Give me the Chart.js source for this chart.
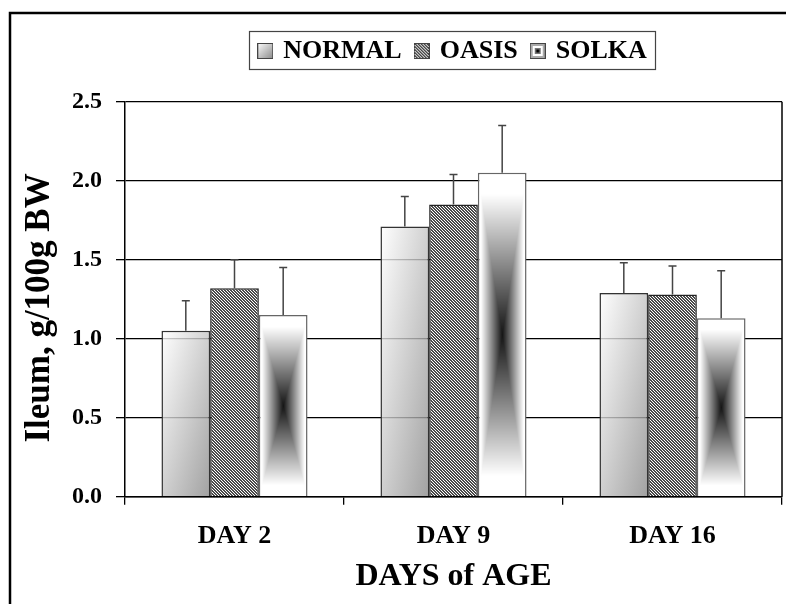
<!DOCTYPE html>
<html>
<head>
<meta charset="utf-8">
<script src="https://cdn.jsdelivr.net/npm/chart.js@4.4.1/dist/chart.umd.min.js"></script>
<style>
  html, body { margin: 0; padding: 0; background: #fff; }
  #chart { display: block; }
</style>
</head>
<body>
<canvas id="chart" width="786" height="604"></canvas>
<script>
// data
const categories = ['DAY 2', 'DAY 9', 'DAY 16'];
const seriesNames = ['NORMAL', 'OASIS', 'SOLKA'];
const normal = [1.05, 1.71, 1.29];
const oasis = [1.32, 1.85, 1.28];
const solka = [1.15, 2.05, 1.13];
const normalErr = [0.19, 0.19, 0.19];
const oasisErr = [0.18, 0.19, 0.18];
const solkaErr = [0.30, 0.30, 0.30];
const yTicks = [0, 0.5, 1.0, 1.5, 2.0, 2.5];

const FONT = "'Liberation Serif', 'Times New Roman', serif";
const CAT_PCT = 0.667;
const LEGEND_TOP = 23;
const LEGEND_H = 78.7;

// where a bar sits, worked out from the chart's own scales
function barBox(c) {
  const chart = c.chart;
  const xs = chart.scales.x;
  const ys = chart.scales.y;
  const nd = chart.data.datasets.length;
  const groupW = (xs.width / categories.length) * CAT_PCT;
  const barW = groupW / nd;
  const cx = xs.getPixelForValue(c.dataIndex);
  const left = cx - groupW / 2 + c.datasetIndex * barW;
  const top = ys.getPixelForValue(c.raw);
  const bottom = ys.getPixelForValue(0);
  return { left, top, w: barW, h: bottom - top };
}

function normalFill(c) {
  if (c.type !== 'data' || !c.chart.chartArea) return '#ddd';
  const b = barBox(c);
  // stretched diagonal gradient (corner to corner of the bar)
  const gx = 1 / (2 * b.w), gy = 1 / (2 * b.h);
  const g2 = gx * gx + gy * gy;
  const grad = c.chart.ctx.createLinearGradient(b.left, b.top, b.left + gx / g2, b.top + gy / g2);
  grad.addColorStop(0, 'rgba(255,255,255,0.8)');
  grad.addColorStop(1, 'rgba(138,138,138,0.8)');
  return grad;
}

const hatchTile = document.createElement('canvas');
hatchTile.width = 3;
hatchTile.height = 3;
(function () {
  const tc = hatchTile.getContext('2d');
  tc.fillStyle = '#fff';
  tc.fillRect(0, 0, 3, 3);
  tc.fillStyle = '#4a4a4a';
  for (let y = 0; y < 3; y++) {
    for (let x = 0; x < 3; x++) {
      if ((((x - y) % 3) + 3) % 3 < 2) tc.fillRect(x, y, 1, 1);
    }
  }
})();

function oasisFill(c) {
  return c.chart.ctx.createPattern(hatchTile, 'repeat');
}

function centerGradientCanvas(w, h) {
  const cv = document.createElement('canvas');
  cv.width = w;
  cv.height = h;
  const cc = cv.getContext('2d');
  const img = cc.createImageData(w, h);
  for (let y = 0; y < h; y++) {
    for (let x = 0; x < w; x++) {
      const u = Math.abs(x + 0.5 - w / 2) / (w / 2);
      const v = Math.abs(y + 0.5 - h / 2) / (h / 2);
      const d = Math.max(u, v);
      const g = Math.min(255, Math.round(20 + 270 * d));
      const i = (y * w + x) * 4;
      img.data[i] = g;
      img.data[i + 1] = g;
      img.data[i + 2] = g;
      img.data[i + 3] = 255;
    }
  }
  cc.putImageData(img, 0, 0);
  return cv;
}

function solkaFill(c) {
  if (c.type !== 'data' || !c.chart.chartArea) return '#eee';
  const b = barBox(c);
  const w = Math.max(1, Math.round(b.w));
  const h = Math.max(1, Math.round(b.h));
  const pat = c.chart.ctx.createPattern(centerGradientCanvas(w, h), 'no-repeat');
  pat.setTransform(new DOMMatrix().translate(b.left, b.top));
  return pat;
}

// legend swatches
function swatch(kind) {
  const s = 16;
  const cv = document.createElement('canvas');
  cv.width = s;
  cv.height = s;
  const cc = cv.getContext('2d');
  if (kind === 0) {
    const g = cc.createLinearGradient(0, 0, s, s);
    g.addColorStop(0, '#fff');
    g.addColorStop(1, '#888');
    cc.fillStyle = g;
    cc.fillRect(0, 0, s, s);
  } else if (kind === 1) {
    cc.fillStyle = cc.createPattern(hatchTile, 'repeat');
    cc.fillRect(0, 0, s, s);
  } else {
    cc.fillStyle = '#aaa';
    cc.fillRect(0, 0, s, s);
    cc.fillStyle = '#fff';
    cc.fillRect(3, 3, 10, 10);
    cc.fillStyle = '#777';
    cc.fillRect(5, 5, 6, 6);
    cc.fillStyle = '#000';
    cc.fillRect(6.5, 6.5, 3, 3);
  }
  cc.strokeStyle = '#444';
  cc.lineWidth = 1;
  cc.strokeRect(0.5, 0.5, s - 1, s - 1);
  return cv;
}
const swatches = [swatch(0), swatch(1), swatch(2)];

const errors = [normalErr, oasisErr, solkaErr];

const framePlugin = {
  id: 'frame',
  beforeLayout(chart) {
    const lg = chart.legend;
    if (lg && !lg._fixedHeight) {
      const fit = lg.fit;
      lg.fit = function () {
        fit.call(this);
        this.height = LEGEND_H;
      };
      lg._fixedHeight = true;
    }
  },
  beforeDatasetsDraw(chart) {
    const { ctx, chartArea } = chart;
    ctx.save();
    ctx.strokeStyle = '#000';
    ctx.lineWidth = 1.5;
    ctx.beginPath();
    ctx.moveTo(chartArea.right, chartArea.top);
    ctx.lineTo(chartArea.right, chartArea.bottom);
    ctx.stroke();
    ctx.restore();
  },
  afterDatasetsDraw(chart) {
    const { ctx } = chart;
    const ys = chart.scales.y;
    ctx.save();
    ctx.strokeStyle = '#444';
    ctx.lineWidth = 1.5;
    chart.data.datasets.forEach((ds, di) => {
      const meta = chart.getDatasetMeta(di);
      meta.data.forEach((el, i) => {
        const yTop = ys.getPixelForValue(ds.data[i] + errors[di][i]);
        ctx.beginPath();
        ctx.moveTo(el.x, el.y);
        ctx.lineTo(el.x, yTop);
        ctx.moveTo(el.x - 4, yTop);
        ctx.lineTo(el.x + 4, yTop);
        ctx.stroke();
      });
    });
    ctx.restore();
  },
  afterDraw(chart) {
    const { ctx } = chart;
    const hb = chart.legend.legendHitBoxes;
    ctx.save();
    if (hb && hb.length) {
      // swatch images hang 3px left of each hit box
      const left = Math.min(...hb.map(b => b.left)) - 11;
      const right = Math.max(...hb.map(b => b.left + b.width)) + 9;
      const top = 31;
      const bottom = 69;
      ctx.strokeStyle = '#444';
      ctx.lineWidth = 1.2;
      ctx.strokeRect(Math.round(left) + 0.5, top + 0.5, Math.round(right - left), bottom - top);
    }
    // outer frame of the figure
    ctx.strokeStyle = '#000';
    ctx.lineWidth = 2.5;
    ctx.strokeRect(10, 13, 800, 620);
    ctx.restore();
  }
};

new Chart(document.getElementById('chart'), {
  type: 'bar',
  data: {
    labels: categories,
    datasets: [
      { label: seriesNames[0], data: normal, backgroundColor: normalFill, borderColor: '#333', borderWidth: 1.5 },
      { label: seriesNames[1], data: oasis, backgroundColor: oasisFill, borderColor: '#222', borderWidth: 1.5 },
      { label: seriesNames[2], data: solka, backgroundColor: solkaFill, borderColor: '#666', borderWidth: 1.5 }
    ]
  },
  options: {
    responsive: false,
    animation: false,
    devicePixelRatio: 1,
    categoryPercentage: CAT_PCT,
    barPercentage: 1.0,
    layout: { padding: { top: LEGEND_TOP, left: 0, right: 4, bottom: 0 } },
    plugins: {
      tooltip: { enabled: false },
      legend: {
        position: 'top',
        fullSize: false,
        align: 'center',
        labels: {
          usePointStyle: true,
          boxWidth: 10,
          boxHeight: 16,
          padding: 15,
          color: '#000',
          font: { family: FONT, size: 26, weight: 'bold' },
          generateLabels: () => seriesNames.map((name, i) => ({
            text: name,
            pointStyle: swatches[i],
            fillStyle: '#fff',
            strokeStyle: '#000',
            lineWidth: 0,
            hidden: false,
            datasetIndex: i
          }))
        }
      }
    },
    scales: {
      x: {
        afterFit(s) { s.height = 107.3; },
        grid: { display: true, drawOnChartArea: false, drawTicks: true, tickLength: 8, tickColor: '#000', color: '#000', lineWidth: 1.3, offset: true },
        border: { color: '#000', width: 1.5 },
        ticks: { color: '#000', padding: 15.7, font: { family: FONT, size: 26, weight: 'bold' } },
        title: { display: true, text: 'DAYS of AGE', color: '#000', font: { family: FONT, size: 32, weight: 'bold' }, padding: { top: 0, bottom: 8 } }
      },
      y: {
        min: yTicks[0],
        max: yTicks[yTicks.length - 1],
        afterFit(s) { s.width = 125; },
        afterBuildTicks(s) { s.ticks = yTicks.map(v => ({ value: v })); },
        grid: { color: '#000', lineWidth: 1.3, tickLength: 9, tickColor: '#000', drawTicks: true },
        border: { color: '#000', width: 1.5 },
        ticks: { color: '#000', padding: 14, font: { family: FONT, size: 24, weight: 'bold' }, callback: v => Number(v).toFixed(1) },
        title: { display: true, text: 'Ileum, g/100g BW  ', color: '#000', font: { family: FONT, size: 35, weight: 'bold' }, padding: { top: 19, bottom: 0 } }
      }
    }
  },
  plugins: [framePlugin]
});
</script>
</body>
</html>
